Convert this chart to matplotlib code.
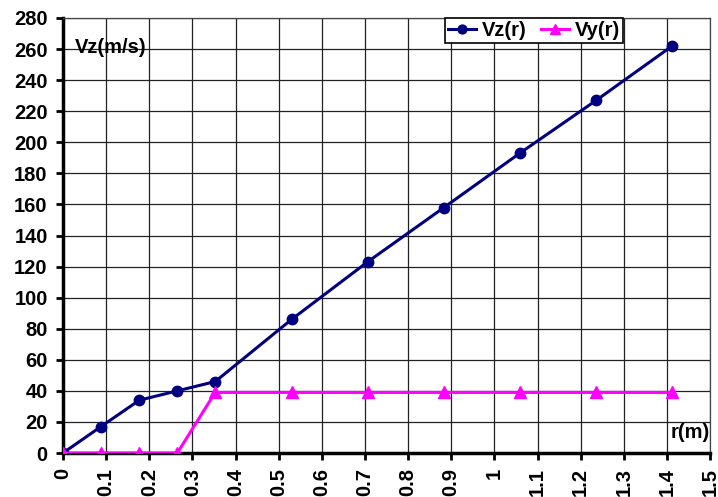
import numpy as np
import matplotlib.pyplot as plt

r = [0, 0.088, 0.177, 0.265, 0.353, 0.530, 0.706, 0.883, 1.059, 1.236, 1.412]
vz = [0, 17, 34, 40, 46, 86, 123, 158, 193, 227, 262]
vy = [0, 0, 0, 0, 39, 39, 39, 39, 39, 39, 39]
xticks = [0, 0.1, 0.2, 0.3, 0.4, 0.5, 0.6, 0.7, 0.8, 0.9, 1, 1.1, 1.2, 1.3, 1.4, 1.5]
yticks = list(range(0, 281, 20))

plt.rcParams['font.family'] = ['Liberation Sans', 'DejaVu Sans']
plt.rcParams['font.weight'] = 'bold'
fs = 14.5

fig = plt.figure(figsize=(7.18, 4.97), dpi=100)
ax = fig.add_axes([0.0877, 0.0885, 0.9013, 0.8753])

ax.plot(r, vz, color='#000080', lw=2.2, marker='o', ms=7.5, label='Vz(r)', zorder=3)
ax.plot(r, vy, color='#FF00FF', lw=2.2, marker='^', ms=8, label='Vy(r)', zorder=3)

ax.set_xlim(0, 1.5)
ax.set_ylim(0, 280)
ax.set_xticks(xticks)
ax.set_xticklabels([('%g' % t) for t in xticks], rotation=90, fontsize=fs, fontweight='bold')
ax.set_yticks(yticks)
ax.set_yticklabels([str(t) for t in yticks], fontsize=fs, fontweight='bold')
ax.grid(True, color='#222222', lw=0.9)
ax.set_axisbelow(True)

for s in ['top', 'right']:
    ax.spines[s].set_color('#444444')
    ax.spines[s].set_linewidth(0.9)
for s in ['left', 'bottom']:
    ax.spines[s].set_linewidth(2.5)
ax.tick_params(direction='out', length=5, width=2)
ax.tick_params(axis='x', pad=6)
ax.tick_params(axis='y', pad=6)

ax.text(0.018, 0.955, 'Vz(m/s)', transform=ax.transAxes, fontsize=fs,
        fontweight='bold', va='top', ha='left')
ax.text(0.999, 0.025, 'r(m)', transform=ax.transAxes, fontsize=fs,
        fontweight='bold', va='bottom', ha='right')

leg = ax.legend(loc='upper left', bbox_to_anchor=(0.59, 1.0), ncol=2, fontsize=fs,
                frameon=True, fancybox=False, edgecolor='black', framealpha=1,
                handlelength=1.4, handletextpad=0.3, columnspacing=0.7,
                borderpad=0.15, borderaxespad=0.0, markerscale=0.85)
leg.get_frame().set_linewidth(1.2)

fig.savefig('out.png', dpi=100)
